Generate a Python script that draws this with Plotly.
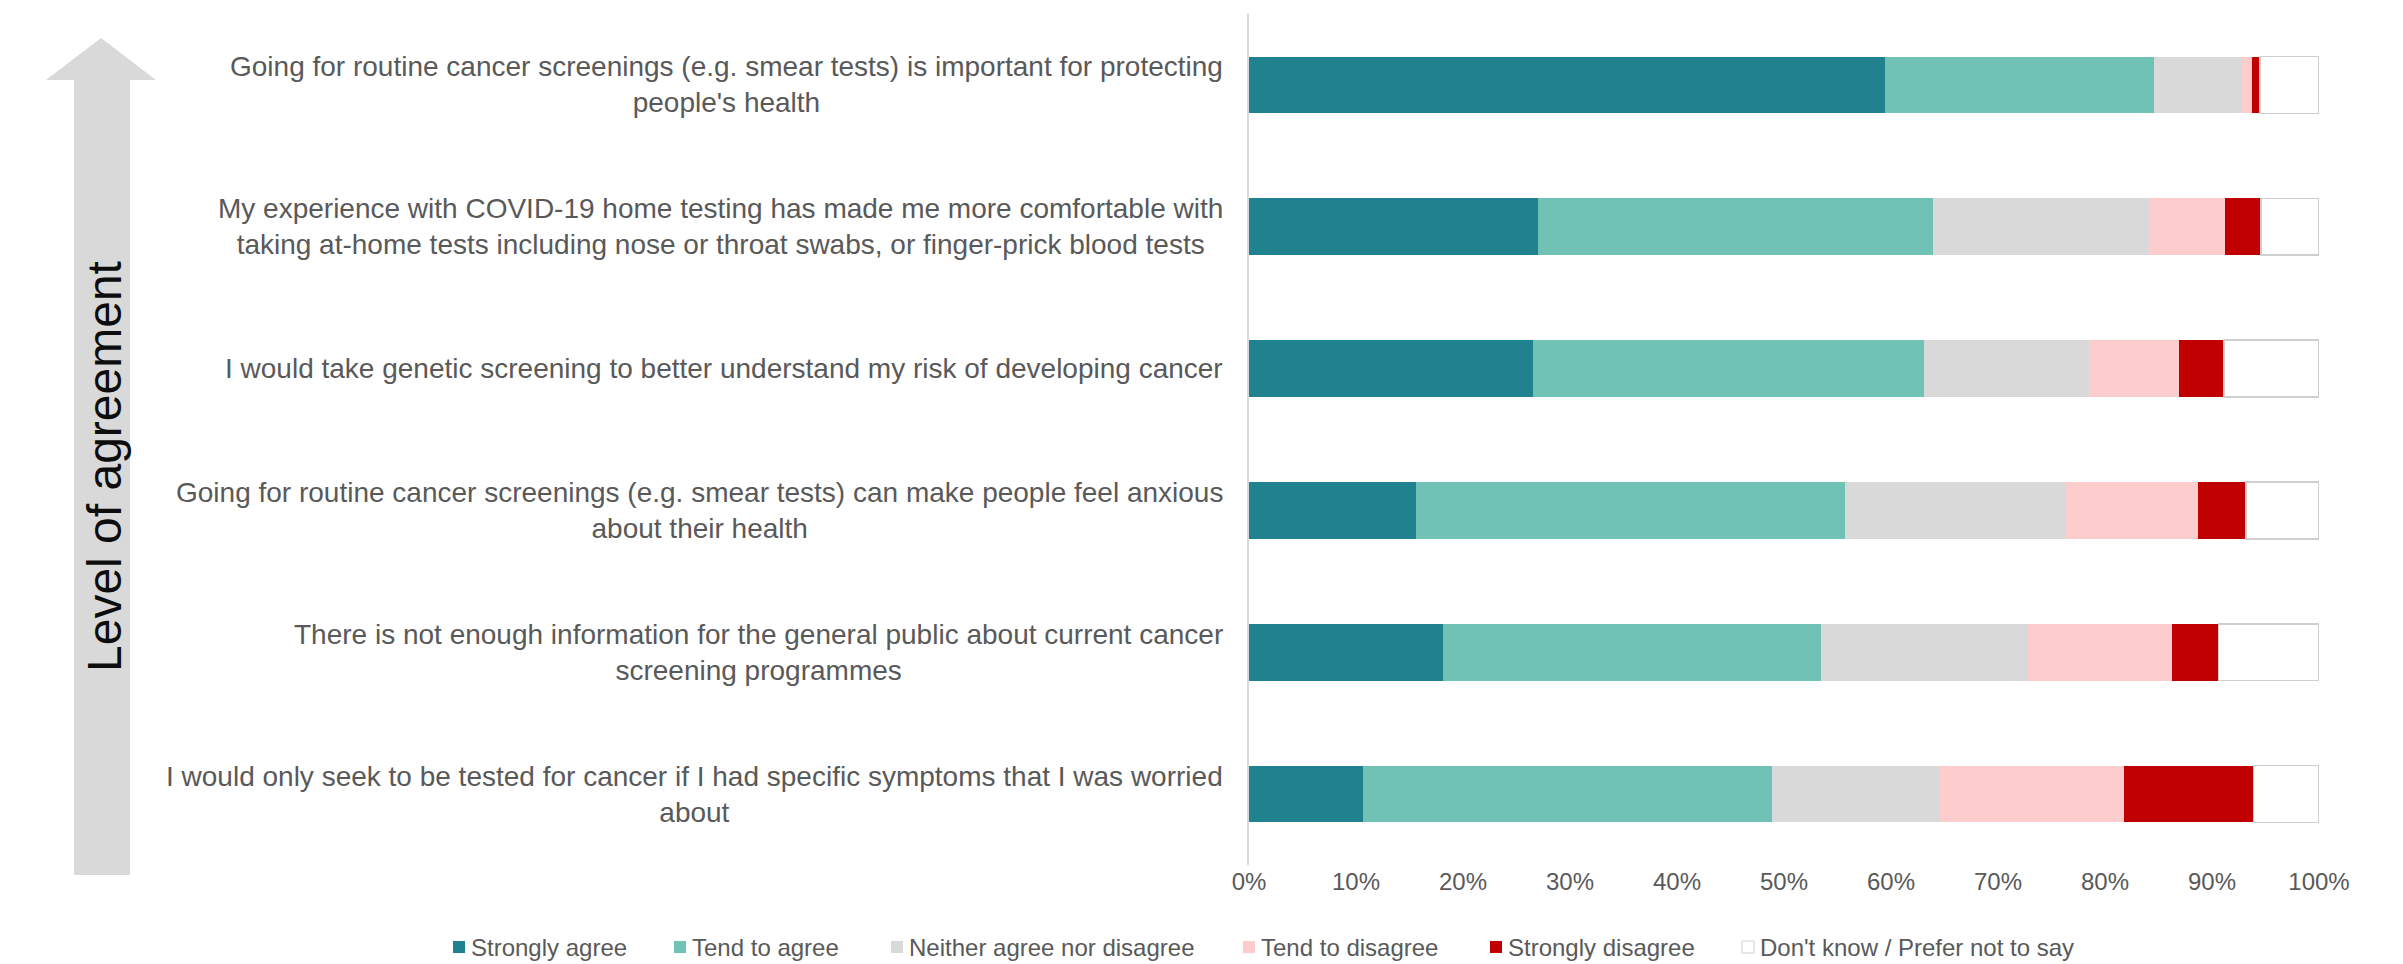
import plotly.graph_objects as go

# Survey statements (top to bottom) and response shares in percent
statements = [
    "Going for routine cancer screenings (e.g. smear tests) is important for protecting<br>people's health",
    "My experience with COVID-19 home testing has made me more comfortable with<br>taking at-home tests including nose or throat swabs, or finger-prick blood tests",
    "I would take genetic screening to better understand my risk of developing cancer",
    "Going for routine cancer screenings (e.g. smear tests) can make people feel anxious<br>about their health",
    "There is not enough information for the general public about current cancer<br>screening programmes",
    "I would only seek to be tested for cancer if I had specific symptoms that I was worried<br>about",
]

responses = [
    "Strongly agree",
    "Tend to agree",
    "Neither agree nor disagree",
    "Tend to disagree",
    "Strongly disagree",
    "Don't know / Prefer not to say",
]

strongly_agree = [59.4, 27.0, 26.5, 15.6, 18.1, 10.7]
tend_to_agree = [25.2, 36.9, 36.6, 40.1, 35.4, 38.2]
neither = [8.2, 20.2, 15.4, 20.7, 19.3, 15.6]
tend_to_disagree = [0.9, 7.1, 8.4, 12.3, 13.5, 17.3]
strongly_disagree = [0.8, 3.4, 4.2, 4.5, 4.3, 12.1]
dont_know = [5.5, 5.4, 8.9, 6.8, 9.4, 6.1]

x_ticks = list(range(0, 101, 10))
axis_title = "Level of agreement"

series = [strongly_agree, tend_to_agree, neither, tend_to_disagree, strongly_disagree, dont_know]
fills = ["#1F828E", "#70C2B4", "#D9D9D9", "#FDCCCC", "#C00000", "#FFFFFF"]
edges = [None, None, None, None, None, "#CFCFCF"]

FONT = "Liberation Sans, Arial, sans-serif"
GREY_TEXT = "#595959"

W, H = 2403, 964
ML, MR, MT, MB = 1249, 84, 14, 99
PW = W - ML - MR
PH = H - MT - MB


def px(x):
    """Pixel column -> paper x."""
    return (x - ML) / PW


def py(y):
    """Pixel row -> paper y."""
    return (H - MB - y) / PH


fig = go.Figure()
for name, vals, fill, edge in zip(responses, series, fills, edges):
    fig.add_trace(go.Bar(
        y=statements,
        x=vals,
        orientation="h",
        name=name,
        marker=dict(
            color=fill,
            line=dict(color=edge if edge else fill, width=1.5 if edge else 0),
        ),
        showlegend=False,
        hovertemplate="%{x:.1f}%<extra>" + name + "</extra>",
    ))

shapes = []
annotations = []

# Statement labels, centred lines with the block right-aligned against the axis
for s in statements:
    annotations.append(dict(
        x=0, xref="paper", y=s, yref="y",
        text=s, showarrow=False,
        xanchor="right", yanchor="middle", align="center",
        xshift=-24,
        font=dict(family=FONT, size=28, color=GREY_TEXT),
    ))

# Upward arrow with rotated caption
arrow = [(101, 38), (156, 80), (130, 80), (130, 875), (74, 875), (74, 80), (46, 80)]
path = "M " + " L ".join(f"{px(a):.5f},{py(b):.5f}" for a, b in arrow) + " Z"
shapes.append(dict(type="path", path=path, xref="paper", yref="paper",
                   fillcolor="#D9D9D9", line=dict(width=0), layer="below"))
annotations.append(dict(
    x=px(104), y=py(467), xref="paper", yref="paper",
    text=axis_title, textangle=-90, showarrow=False,
    xanchor="center", yanchor="middle",
    font=dict(family=FONT, size=48, color="#0D0D0D"),
))

# Legend row
legend_left = [453, 674, 891, 1243, 1490, 1742]
legend_y = 947
for name, fill, edge, left in zip(responses, fills, edges, legend_left):
    shapes.append(dict(
        type="rect", xref="paper", yref="paper",
        x0=px(left), x1=px(left + 12), y0=py(legend_y + 6), y1=py(legend_y - 6),
        fillcolor=fill, line=dict(color=edge if edge else fill, width=1 if edge else 0),
    ))
    annotations.append(dict(
        x=px(left + 16), y=py(legend_y), xref="paper", yref="paper",
        text=name, showarrow=False, xanchor="left", yanchor="middle",
        font=dict(family=FONT, size=24, color=GREY_TEXT),
    ))

fig.update_layout(
    width=W, height=H,
    margin=dict(l=ML, r=MR, t=MT, b=MB, pad=0),
    barmode="stack",
    bargap=0.6,
    plot_bgcolor="white",
    paper_bgcolor="white",
    font=dict(family=FONT, size=24, color=GREY_TEXT),
    shapes=shapes,
    annotations=annotations,
    xaxis=dict(
        range=[0, 100],
        tickvals=x_ticks,
        ticktext=[f"{t}%" for t in x_ticks],
        showgrid=False, zeroline=False, showline=False,
        ticks="",
        tickfont=dict(family=FONT, size=24, color=GREY_TEXT),
        fixedrange=True,
    ),
    yaxis=dict(
        categoryorder="array",
        categoryarray=statements,
        autorange="reversed",
        showticklabels=False,
        ticks="",
        showgrid=False, zeroline=False,
        showline=True, linecolor="#D9D9D9", linewidth=2,
        fixedrange=True,
    ),
)

fig.write_html("out.html")
